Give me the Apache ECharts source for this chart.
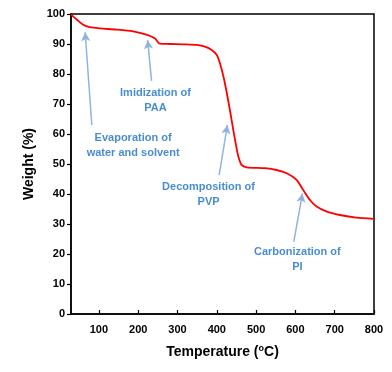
<!DOCTYPE html>
<html>
<head>
<meta charset="utf-8">
<script src="https://cdn.jsdelivr.net/npm/echarts@6/dist/echarts.min.js"></script>
<style>html,body{margin:0;padding:0;background:#fff;}#c{width:392px;height:372px;}</style>
</head>
<body>
<div id="c"></div>
<script>
// TGA curve: temperature (°C) and weight (%)
const temps = [29, 44, 60, 77, 103, 145, 187, 221, 243, 255, 281, 320, 349, 370, 387, 400, 408, 417, 425, 434, 442, 448, 455, 463, 476, 523, 552, 578, 603, 620, 637, 654, 680, 713, 755, 800];
const weights = [99.8, 98.1, 96.4, 95.6, 95.2, 94.8, 94.2, 93.1, 91.8, 90.1, 90.0, 89.9, 89.7, 89.1, 88.0, 86.3, 83.6, 79.1, 74.0, 67.5, 61.3, 56.9, 52.4, 49.7, 48.9, 48.6, 48.0, 46.9, 44.7, 41.3, 38.0, 35.8, 34.1, 33.0, 32.1, 31.7];
const xTicks = [100, 200, 300, 400, 500, 600, 700, 800];

// annotations: text, label position, arrow tail, arrow tip (data coords)
const annTexts = ['Evaporation of\nwater and solvent', 'Imidization of\nPAA', 'Decomposition of\nPVP', 'Carbonization of\nPI'];
const annLabelPos = [[187, 56.2], [244, 71.3], [379, 40.0], [605, 18.3]];
const arrowTails = [[82, 63.0], [234, 77.7], [406, 46.3], [596, 24.1]];
const arrowTips = [[65, 93.9], [224, 91.3], [427, 63.0], [618, 40.2]];

const chart = echarts.init(document.getElementById('c'));
const font = 'Liberation Sans, Arial, sans-serif';
chart.setOption({
  animation: false,
  grid: { left: 71, right: 18, top: 14, bottom: 58, show: true, borderColor: '#000', borderWidth: 1.5, backgroundColor: 'transparent' },
  xAxis: {
    type: 'value', min: 29, max: 800,
    name: '{a|Temperature (}{s|o}{a|C)}', nameLocation: 'middle', nameGap: 30,
    nameTextStyle: { rich: {
      a: { fontSize: 14, fontWeight: 'bold', color: '#000', fontFamily: font },
      s: { fontSize: 9, fontWeight: 'bold', color: '#000', fontFamily: font, verticalAlign: 'top', padding: [0, 0, 8, 0] }
    } },
    axisLine: { lineStyle: { color: '#000', width: 1.5 } },
    axisTick: { inside: true, length: 4, customValues: xTicks, lineStyle: { color: '#000', width: 1.2 } },
    axisLabel: { customValues: xTicks, color: '#000', fontWeight: 'bold', fontSize: 11, fontFamily: font, margin: 10 },
    splitLine: { show: false }
  },
  yAxis: {
    type: 'value', min: 0, max: 100, interval: 10,
    name: 'Weight (%)', nameLocation: 'middle', nameGap: 34,
    nameTextStyle: { fontSize: 14, fontWeight: 'bold', color: '#000', fontFamily: font },
    axisLine: { show: true, lineStyle: { color: '#000', width: 1.5 } },
    axisTick: { show: true, inside: false, length: 4, lineStyle: { color: '#000', width: 1.2 } },
    axisLabel: { color: '#000', fontWeight: 'bold', fontSize: 11, fontFamily: font, margin: 6 },
    splitLine: { show: false }
  },
  series: [
    {
      type: 'line', smooth: 0.25, symbol: 'none',
      data: temps.map((t, i) => [t, weights[i]]),
      lineStyle: { color: '#ff0000', width: 1.8 },
      markLine: {
        silent: true, symbol: ['none', 'arrow'], symbolSize: [7, 9],
        label: { show: false },
        lineStyle: { color: '#8fb4e0', width: 1.5, type: 'solid' },
        data: arrowTails.map((t, i) => [{ coord: t }, { coord: arrowTips[i] }])
      }
    },
    {
      type: 'scatter', symbolSize: 0, silent: true,
      data: annTexts.map((s, i) => ({ name: s, value: annLabelPos[i] })),
      label: {
        show: true, position: 'inside', formatter: p => p.name,
        color: '#1a6fc4', fontWeight: 'bold', fontSize: 11, fontFamily: font, lineHeight: 15, align: 'center'
      }
    }
  ]
});
</script>
</body>
</html>
